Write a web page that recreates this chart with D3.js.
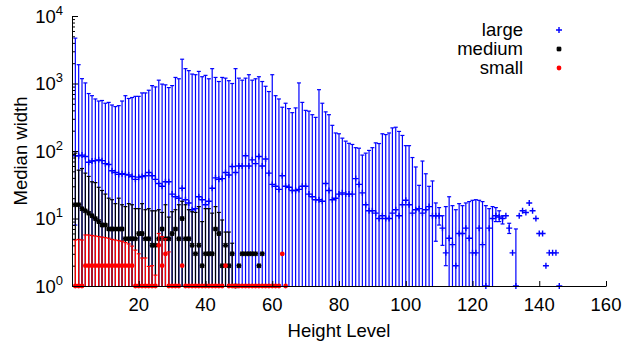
<!DOCTYPE html>
<html>
<head>
<meta charset="utf-8">
<script src="https://cdn.jsdelivr.net/npm/d3@7"></script>
<style>
  html, body { margin: 0; padding: 0; background: #fff; }
  svg text { font-family: "Liberation Sans", Arial, Helvetica, sans-serif; fill: #000; }
</style>
</head>
<body>
<svg id="chart" width="624" height="345"></svg>
<script>
// Axis ticks
const xTicks = [20, 40, 60, 80, 100, 120, 140, 160];
const yTicks = [1, 10, 100, 1000, 10000];
const seriesNames = ["large", "medium", "small"];

// "large": median width per height level 1..146, with upper / lower error bounds
const largeMed = [
  85, 85, 87, 83, 68, 71, 72, 74, 72, 65,
  63, 51, 48, 45, 46, 45, 44, 42, 38, 41,
  42, 43, 48, 43, 38, 33, 30, 35, 35, 23,
  21, 20, 28, 19, 17, 13.5, 14, 21, 19, 16,
  18, 28, 40, 38, 39, 48, 44, 59, 48, 60,
  60, 85, 60, 74, 65, 83, 60, 76, 47, 32,
  30, 27, 43, 30, 29, 26, 26, 27, 30, 30,
  23, 21, 19, 19, 18, 33, 26, 19, 20, 23,
  24, 23, 23, 23, 39, 32, 24, 16, 13, 13,
  12, 10, 11, 10, 10, 12, 13.5, 11, 16, 18.6,
  16, 12, 13.5, 14, 12, 13.5, 15, 11, 11, 11,
  7.2, 3.1, 5.1, 4.1, 2, 6, 6, 7.2, 5.1, 3.1,
  3.1, 7.2, 4.1, 1, 7.2, 10, 11, 10.5, 10, 11,
  7.2, 3.1, 1, 11, 13, 12.3, 17, 13, 10, 6,
  6, 2, 3.1, 3.1, 3.1, 1
];
const largeHi = [
  4700, 1900, 1180, 1020, 710, 660, 590, 550, 560, 510,
  525, 480, 455, 470, 550, 660, 600, 620, 645, 645,
  725, 725, 795, 930, 890, 1120, 980, 955, 870, 930,
  1230, 1175, 2290, 1660, 1550, 1380, 1350, 1510, 1260, 1320,
  1175, 1660, 1230, 1070, 1230, 1200, 1100, 1000, 1660, 1200,
  1120, 1200, 1350, 1120, 1175, 1260, 1070, 910, 760, 1350,
  660, 590, 445, 510, 425, 370, 435, 1020, 525, 400,
  390, 345, 315, 810, 510, 380, 345, 240, 185, 180,
  155, 140, 130, 125, 112, 110, 87, 93, 102, 112,
  132, 129, 180, 175, 185, 220, 225, 195, 170, 120,
  120, 80, 58, 31, 71, 46, 30, 36, 17, 14.5,
  11, 15, 21, 15.5, 13.5, 16.6, 15.5, 17, 17.8, 18.6,
  19, 18.6, 17.8, 15.5, 14, 15, 14.5, 13, 11, 11,
  8.5, 3.1, 7, 11, 13, 12.3, 17, 13, 10, 6,
  6, 2, 3.1, 3.1, 3.1, 1
];
const largeLo = [
  8, 1, 1, 1, 1, 1, 1, 1, 1, 1,
  1, 1, 1, 1, 1, 1, 1, 1, 1, 1,
  1, 1, 1, 1, 1, 1, 1, 1, 1, 1,
  1, 1, 1, 1, 1, 1, 1, 1, 1, 1,
  1, 1, 1, 1, 1, 1, 1, 1, 1, 1,
  1, 1, 1, 1, 1, 1, 1, 1, 1, 1,
  1, 1, 1, 1, 1, 1, 1, 1, 1, 1,
  1, 1, 1, 1, 1, 1, 1, 1, 1, 1,
  1, 1, 1, 1, 1, 1, 1, 1, 1, 1,
  1, 1, 1, 1, 1, 1, 1, 1, 1, 1,
  1, 1, 1, 1, 1, 1, 1, 1, 4.6, 8,
  4, 2, 1, 1, 1, 1, 1, 1, 1, 1,
  1, 1, 1, 1, 1, 1, 9, 9, 8.3, 11,
  6, 3.1, 1, 11, 13, 12.3, 17, 13, 10, 6,
  6, 2, 3.1, 3.1, 3.1, 1
];

// "medium": height levels 1..57
const mediumMed = [
  16, 16, 14, 13, 12, 11, 10, 9, 8, 8,
  7, 7, 7, 7, 7, 5, 5, 5, 5, 6,
  6, 5, 5, 4, 4, 5, 7, 5, 5, 6,
  7, 5, 10, 5, 5, 4, 3, 4, 2, 3,
  3, 3, 7, 6, 2, 4, 2, 3, 1, 2,
  3, 3, 3, 3, 3, 2, 3
];
const mediumHi = [
  93, 52, 55, 47, 42, 35, 34, 29, 26, 23,
  20, 19, 16.6, 20, 16, 15, 16.6, 16, 14, 14,
  16.6, 13.5, 14, 13, 13, 13.5, 12.3, 16, 10.5, 12.6,
  13.5, 16, 18, 16, 13.5, 12.6, 12.3, 15, 9, 14,
  14, 12, 15, 12.3, 9.5, 6.3, 6.3, 4.3, 1, 2,
  3, 3, 3, 3, 3, 2, 3
];

// "small": height levels 1..64
const smallMed = [
  1, 1, 1, 2, 2, 2, 2, 2, 2, 2,
  2, 2, 2, 2, 2, 2, 2, 2, 1, 1,
  1, 1, 1, 1, 1, 4, 2, 3, 1, 1,
  1, 1, 2, 1, 1, 1, 1, 1, 1, 1,
  1, 1, 1, 1, 1, 2, 1, 1, 1, 1,
  1, 1, 1, 1, 1, 1, 1, 1, 1, 1,
  1, 1, 3, 1
];
const smallHi = [
  4.8, 4.9, 4.8, 5.7, 5.7, 5.6, 5.5, 5.4, 5.3, 5.2,
  5.1, 4.9, 4.8, 4.7, 4.6, 4.4, 4.2, 3.9, 3.4, 3.0,
  2.6, 2.6, 1.95, 2.0, 1.45, 6.0, 5.4, 5.0, 3.2, 1,
  1, 1, 2, 1, 1, 1, 1, 1, 1, 1,
  1, 1, 1, 1, 1, 2, 1, 1, 1, 1,
  1, 1, 1, 1, 1, 1, 1, 1, 1, 1,
  1, 1, 3, 1
];

const svg = d3.select("#chart");
const x = d3.scaleLinear().domain([0, 160]).range([72, 606]);
const y = d3.scaleLog().domain([1, 10000]).range([286, 16]);
const FS = 18.5;

// ---- series ----
function markerPath(kind, cx, cy) {
  if (kind === "plus") return `M${cx - 3},${cy}h6M${cx},${cy - 3}v6`;
  if (kind === "star") return `M${cx - 2.5},${cy}h5M${cx},${cy - 2.5}v5M${cx - 2},${cy - 2}l4,4M${cx - 2},${cy + 2}l4,-4`;
  return "";
}

function drawSeries(name, med, hi, lo, color, kind) {
  const data = med.map((m, i) => ({
    lvl: i + 1, m, hi: hi[i], lo: lo ? lo[i] : 1
  }));
  const g = svg.append("g").attr("class", "series-" + name);
  // an error bar is only drawn where the upper bound lies above the median
  const withBar = data.filter(d => d.hi > d.m);
  g.selectAll("line.bar").data(withBar).join("line")
    .attr("class", "bar")
    .attr("x1", d => x(d.lvl)).attr("x2", d => x(d.lvl))
    .attr("y1", d => y(Math.max(d.lo, 1))).attr("y2", d => y(d.hi))
    .attr("stroke", color).attr("stroke-width", 1.2);
  g.selectAll("line.cap-hi").data(withBar).join("line")
    .attr("class", "cap-hi")
    .attr("x1", d => x(d.lvl) - 2).attr("x2", d => x(d.lvl) + 2)
    .attr("y1", d => y(d.hi)).attr("y2", d => y(d.hi))
    .attr("stroke", color).attr("stroke-width", 1.2);
  g.selectAll("line.cap-lo").data(withBar.filter(d => d.lo > 1)).join("line")
    .attr("class", "cap-lo")
    .attr("x1", d => x(d.lvl) - 2).attr("x2", d => x(d.lvl) + 2)
    .attr("y1", d => y(d.lo)).attr("y2", d => y(d.lo))
    .attr("stroke", color).attr("stroke-width", 1.2);
  if (kind === "dot") {
    g.selectAll("circle.pt").data(data).join("circle")
      .attr("class", "pt")
      .attr("cx", d => x(d.lvl)).attr("cy", d => y(d.m)).attr("r", 2.4)
      .attr("fill", color);
  } else {
    g.selectAll("path.pt").data(data).join("path")
      .attr("class", "pt")
      .attr("d", d => markerPath(kind, x(d.lvl), y(d.m)))
      .attr("stroke", color).attr("stroke-width", 1.4).attr("fill", "none");
  }
}

drawSeries("large", largeMed, largeHi, largeLo, "#0000ff", "plus");
drawSeries("medium", mediumMed, mediumHi, null, "#000000", "star");
drawSeries("small", smallMed, smallHi, null, "#ff0000", "dot");

// ---- axes ----
svg.append("g").attr("transform", "translate(72,0)")
  .call(d3.axisLeft(y).tickValues(yTicks).tickSizeInner(-6).tickSizeOuter(0).tickFormat(""));
const minor = y.ticks().filter(v => !yTicks.includes(v));
svg.append("g").attr("transform", "translate(72,0)")
  .call(d3.axisLeft(y).tickValues(minor).tickSizeInner(-3).tickSizeOuter(0).tickFormat(""))
  .select(".domain").remove();

svg.append("g").attr("transform", "translate(0,286)")
  .call(d3.axisBottom(x).tickValues(xTicks).tickSizeInner(-5).tickSizeOuter(0).tickFormat(""));

svg.selectAll(".domain, .tick line").attr("stroke", "#000").attr("stroke-width", 1);

// tick labels
svg.append("g").selectAll("text").data(xTicks).join("text")
  .attr("x", d => x(d)).attr("y", 311)
  .attr("text-anchor", "middle").attr("font-size", FS)
  .text(d => d);

const yl = svg.append("g").selectAll("text").data(yTicks).join("text")
  .attr("x", 63).attr("y", d => y(d) + 6.5)
  .attr("text-anchor", "end").attr("font-size", FS);
yl.append("tspan").text("10");
yl.append("tspan").attr("font-size", 13).attr("dy", -8).text(d => Math.round(Math.log10(d)));

// axis titles
svg.append("text").attr("x", 339).attr("y", 337)
  .attr("text-anchor", "middle").attr("font-size", FS).text("Height Level");
svg.append("text").attr("transform", "translate(27,151) rotate(-90)")
  .attr("text-anchor", "middle").attr("font-size", FS).text("Median width");

// ---- legend ----
const legendColors = ["#0000ff", "#000000", "#ff0000"];
const legendKinds = ["plus", "star", "dot"];
const lg = svg.append("g").attr("class", "legend");
seriesNames.forEach((n, i) => {
  const cy = 30 + i * 19;
  lg.append("text").attr("x", 523).attr("y", cy + 6)
    .attr("text-anchor", "end").attr("font-size", FS).text(n);
  if (legendKinds[i] === "dot") {
    lg.append("circle").attr("cx", 559).attr("cy", cy).attr("r", 2.4).attr("fill", legendColors[i]);
  } else {
    lg.append("path").attr("d", markerPath(legendKinds[i], 559, cy))
      .attr("stroke", legendColors[i]).attr("stroke-width", 1.4).attr("fill", "none");
  }
});
</script>
</body>
</html>
